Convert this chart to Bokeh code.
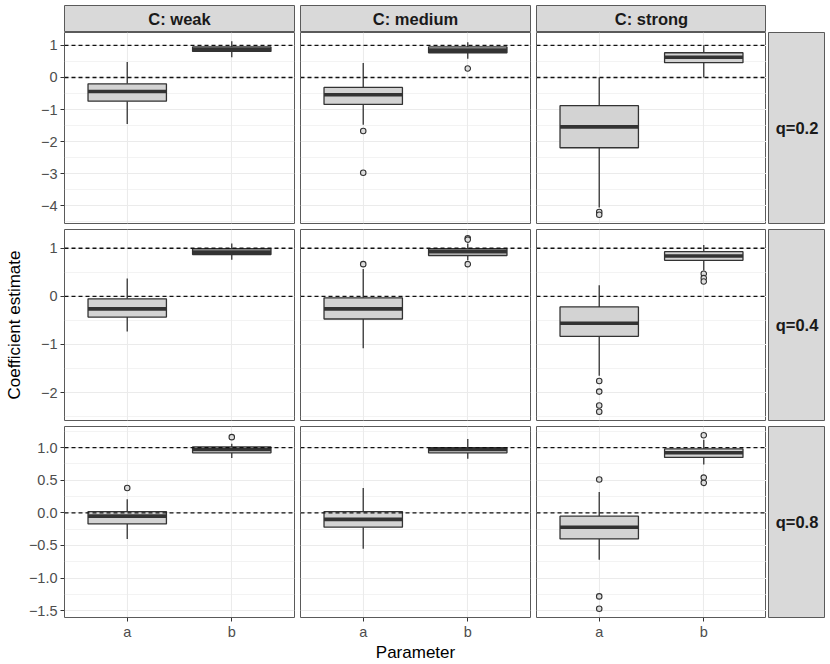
from bokeh.plotting import figure
from bokeh.models import Range1d, FixedTicker, Span, ColumnDataSource
from bokeh.layouts import column, row
from bokeh.embed import file_html
from bokeh.resources import INLINE
from bokeh.core.properties import value

# ---------------- data ----------------
col_labels = ["C: weak", "C: medium", "C: strong"]
row_labels = ["q=0.2", "q=0.4", "q=0.8"]
params = ["a", "b"]
ref_lines = [0, 1]

# values indexed [row][col][param]
lower_whisker = [
    [[-1.45, 0.63], [-1.47, 0.58], [-4.05, 0.00]],
    [[-0.73, 0.76], [-1.08, 0.75], [-1.65, 0.54]],
    [[-0.40, 0.84], [-0.55, 0.83], [-0.72, 0.74]],
]
q1_vals = [
    [[-0.74, 0.81], [-0.84, 0.77], [-2.19, 0.46]],
    [[-0.43, 0.87], [-0.47, 0.85], [-0.83, 0.75]],
    [[-0.17, 0.92], [-0.22, 0.92], [-0.40, 0.85]],
]
median_vals = [
    [[-0.44, 0.88], [-0.54, 0.85], [-1.54, 0.63]],
    [[-0.26, 0.92], [-0.26, 0.93], [-0.56, 0.84]],
    [[-0.05, 0.97], [-0.10, 0.97], [-0.22, 0.92]],
]
q3_vals = [
    [[-0.20, 0.95], [-0.31, 0.95], [-0.88, 0.77]],
    [[-0.05, 0.99], [-0.03, 0.99], [-0.22, 0.93]],
    [[0.02, 1.01], [0.02, 1.00], [-0.05, 0.98]],
]
upper_whisker = [
    [[0.48, 1.13], [0.45, 1.10], [0.00, 1.00]],
    [[0.37, 1.10], [0.57, 1.10], [0.23, 1.07]],
    [[0.21, 1.06], [0.38, 1.13], [0.32, 1.12]],
]
outliers = [
    [[[], []], [[-1.67, -2.97], [0.28]], [[-4.19, -4.28], []]],
    [[[], []], [[0.67], [1.21, 1.18, 0.67]], [[-1.76, -1.98, -2.27, -2.40], [0.47, 0.38, 0.31]]],
    [[[0.38], [1.16]], [[], []], [[0.51, -1.28, -1.47], [1.19, 0.54, 0.46]]],
]
y_ticks = [
    [-4, -3, -2, -1, 0, 1],
    [-2, -1, 0, 1],
    [-1.5, -1.0, -0.5, 0.0, 0.5, 1.0],
]
y_tick_labels = [
    ["−4", "−3", "−2", "−1", "0", "1"],
    ["−2", "−1", "0", "1"],
    ["−1.5", "−1.0", "−0.5", "0.0", "0.5", "1.0"],
]

# ---------------- style ----------------
FONT = "Liberation Sans"
BOX_FILL = "#D3D3D3"
DARK = "#333333"
BORDER = "#5A5A5A"
GRID = "#EBEBEB"
STRIP = "#D9D9D9"
FW, FH = 230, 191
BOX_W = 0.75
TICK_FS = "14.5px"
xpos = [i + 1 for i in range(len(params))]


def row_limits(i):
    vals = list(ref_lines)
    for j in range(len(col_labels)):
        for k in range(len(params)):
            vals += [lower_whisker[i][j][k], upper_whisker[i][j][k]] + outliers[i][j][k]
    lo, hi = min(vals), max(vals)
    pad = 0.05 * (hi - lo)
    return lo - pad, hi + pad


def minor_breaks(ticks, lo, hi):
    step = ticks[1] - ticks[0]
    ext = [ticks[0] - step] + list(ticks) + [ticks[-1] + step]
    mids = [(a + b) / 2 for a, b in zip(ext[:-1], ext[1:])]
    return [m for m in mids if lo <= m <= hi]


def make_strip(label, fw, fh, ml, mr, mt, mb):
    s = figure(frame_width=fw, frame_height=fh, x_range=Range1d(0, 1), y_range=Range1d(0, 1),
               x_axis_location=None, y_axis_location=None, title=None,
               min_border_left=ml, min_border_right=mr, min_border_top=mt, min_border_bottom=mb,
               toolbar_location=None, output_backend="svg")
    s.grid.grid_line_color = None
    s.background_fill_color = STRIP
    s.border_fill_color = "white"
    s.outline_line_color = BORDER
    s.outline_line_width = 1
    s.text(x=[0.5], y=[0.5], text=[label], text_align="center", text_baseline="middle",
           text_font=value(FONT), text_font_style="bold", text_font_size="16.5px",
           text_color="#1A1A1A")
    return s


def make_panel(i, j):
    ylo, yhi = row_limits(i)
    left = 64 if j == 0 else 3
    right = 3 if j < 2 else 0
    top = 0 if i == 0 else 3
    bottom = 3 if i < 2 else 40
    p = figure(frame_width=FW, frame_height=FH,
               x_range=Range1d(xpos[0] - 0.6, xpos[-1] + 0.6), y_range=Range1d(ylo, yhi),
               x_axis_location="below" if i == 2 else None,
               y_axis_location="left" if j == 0 else None, title=None,
               min_border_left=left, min_border_right=right, min_border_top=top,
               min_border_bottom=bottom, toolbar_location=None, output_backend="svg")
    p.background_fill_color = "white"
    p.border_fill_color = "white"
    p.outline_line_color = BORDER
    p.outline_line_width = 1

    mt = minor_breaks(y_ticks[i], ylo, yhi)
    p.ygrid.ticker = FixedTicker(ticks=y_ticks[i], minor_ticks=mt)
    p.xgrid.ticker = FixedTicker(ticks=xpos, minor_ticks=[])
    for g in (p.xgrid, p.ygrid):
        g.grid_line_color = GRID
        g.grid_line_width = 1.1
    p.ygrid.minor_grid_line_color = GRID
    p.ygrid.minor_grid_line_width = 0.6

    if j == 0:
        ax = p.yaxis[0]
        ax.ticker = FixedTicker(ticks=y_ticks[i], minor_ticks=mt)
        ax.major_label_overrides = {t: l for t, l in zip(y_ticks[i], y_tick_labels[i])}
        ax.axis_line_color = None
        ax.major_tick_in = 0
        ax.major_tick_out = 4
        ax.major_tick_line_color = DARK
        ax.minor_tick_line_color = None
        ax.major_label_text_font = FONT
        ax.major_label_text_font_size = TICK_FS
        ax.major_label_text_color = "#4D4D4D"
        ax.major_label_standoff = 3
        if i == 1:
            ax.axis_label = "Coefficient estimate"
            ax.axis_label_text_font = FONT
            ax.axis_label_text_font_size = "17px"
            ax.axis_label_text_font_style = "normal"
            ax.axis_label_text_color = "black"
            ax.axis_label_standoff = 14
    if i == 2:
        ax = p.xaxis[0]
        ax.ticker = FixedTicker(ticks=xpos, minor_ticks=[])
        ax.major_label_overrides = {x: l for x, l in zip(xpos, params)}
        ax.axis_line_color = None
        ax.major_tick_in = 0
        ax.major_tick_out = 4
        ax.major_tick_line_color = DARK
        ax.minor_tick_line_color = None
        ax.major_label_text_font = FONT
        ax.major_label_text_font_size = TICK_FS
        ax.major_label_text_color = "#4D4D4D"
        ax.major_label_standoff = 2
        if j == 1:
            ax.axis_label = "Parameter"
            ax.axis_label_text_font = FONT
            ax.axis_label_text_font_size = "17px"
            ax.axis_label_text_font_style = "normal"
            ax.axis_label_text_color = "black"
            ax.axis_label_standoff = 0

    for v in ref_lines:
        p.add_layout(Span(location=v, dimension="width", line_color="#111111",
                          line_width=1.4, line_dash="4 3"))

    src = ColumnDataSource(dict(
        x=xpos,
        x0=[x - BOX_W / 2 for x in xpos],
        x1=[x + BOX_W / 2 for x in xpos],
        lo=lower_whisker[i][j], q1=q1_vals[i][j], med=median_vals[i][j],
        q3=q3_vals[i][j], hi=upper_whisker[i][j],
    ))
    p.segment(x0="x", y0="q3", x1="x", y1="hi", source=src, line_color=DARK, line_width=1.3)
    p.segment(x0="x", y0="lo", x1="x", y1="q1", source=src, line_color=DARK, line_width=1.3)
    p.vbar(x="x", width=BOX_W, bottom="q1", top="q3", source=src,
           fill_color=BOX_FILL, line_color=DARK, line_width=1.3)
    p.segment(x0="x0", y0="med", x1="x1", y1="med", source=src, line_color=DARK,
              line_width=3.6)

    ox, oy = [], []
    for k, x in enumerate(xpos):
        for v in outliers[i][j][k]:
            ox.append(x)
            oy.append(v)
    if ox:
        p.scatter(x=ox, y=oy, marker="circle", size=5.5, fill_color="#DDDDDD",
                  line_color=DARK, line_width=1.1)
    return p


strips_top = []
for j, lab in enumerate(col_labels):
    strips_top.append(make_strip(lab, FW, 27, 64 if j == 0 else 3, 3 if j < 2 else 0, 5, 0))

rows = [row(strips_top, spacing=0)]
for i, lab in enumerate(row_labels):
    panels = [make_panel(i, j) for j in range(len(col_labels))]
    rs = make_strip(lab, 57, FH, 2, 0, 0 if i == 0 else 3, 3 if i < 2 else 40)
    rows.append(row(panels + [rs], spacing=0))

layout = column(rows, spacing=0)

open("out.html", "w").write(file_html(layout, INLINE))
